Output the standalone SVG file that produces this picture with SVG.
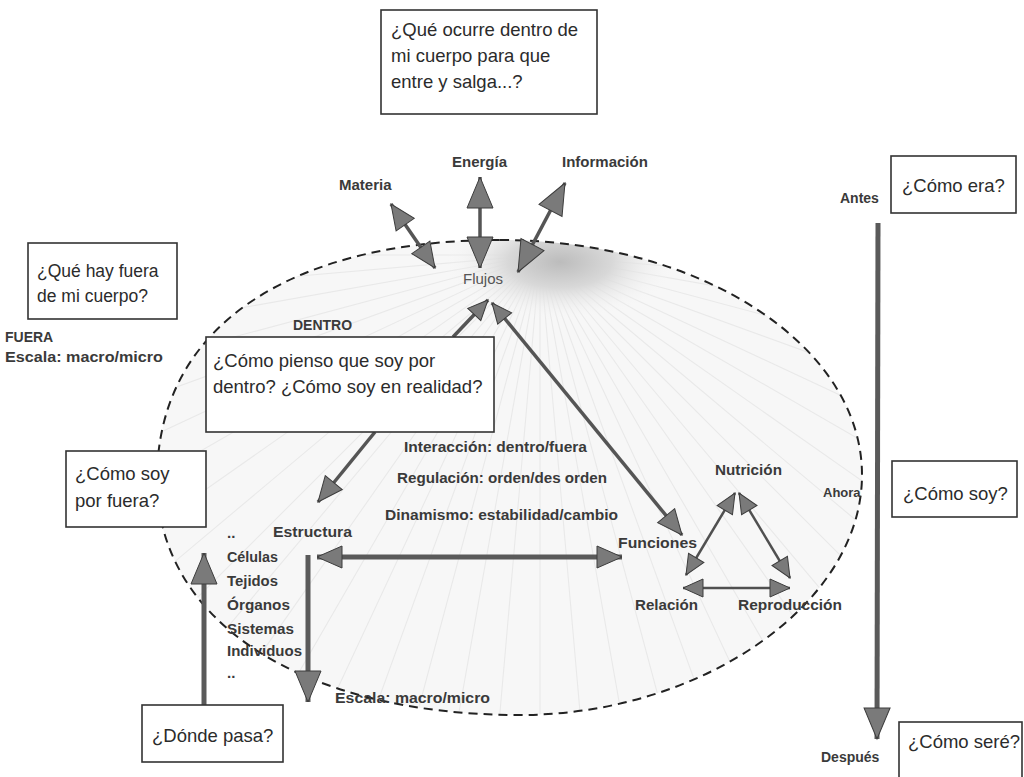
<svg xmlns="http://www.w3.org/2000/svg" width="1024" height="777" viewBox="0 0 1024 777">
  <style>
    .box { fill: #ffffff; stroke: #333333; stroke-width: 1.6; }
    .q { font-family: "Liberation Sans", Arial, sans-serif; font-size: 18.5px; fill: #2b2b2b; }
    .lbl { font-family: "Liberation Sans", Arial, sans-serif; font-size: 15px; font-weight: bold; fill: #3a3a3a; }
    .sm { font-family: "Liberation Sans", Arial, sans-serif; font-size: 14px; font-weight: bold; fill: #3a3a3a; }
    .flow { font-family: "Liberation Sans", Arial, sans-serif; font-size: 15px; fill: #555555; }
    .shaft { stroke: #555555; stroke-width: 3.5; fill: none; }
    .thick { stroke: #5a5a5a; stroke-width: 5; fill: none; }
    .thin { stroke: #505050; stroke-width: 2.5; fill: none; }
    .bound { fill: none; stroke: #222222; stroke-width: 2; stroke-dasharray: 9 6; }
  </style>
  <defs>
    <marker id="big" markerUnits="userSpaceOnUse" markerWidth="34" markerHeight="30" refX="32" refY="14" orient="auto-start-reverse">
      <path d="M1,1 L32,14 L1,27 z" fill="#7a7a7a" stroke="#3c3c3c" stroke-width="1"/>
    </marker>
    <marker id="med" markerUnits="userSpaceOnUse" markerWidth="28" markerHeight="26" refX="26" refY="12" orient="auto-start-reverse">
      <path d="M1,1 L26,12 L1,23 z" fill="#7a7a7a" stroke="#3c3c3c" stroke-width="1"/>
    </marker>
    <marker id="small" markerUnits="userSpaceOnUse" markerWidth="24" markerHeight="22" refX="21" refY="10" orient="auto-start-reverse">
      <path d="M1,1 L21,10 L1,19 z" fill="#7a7a7a" stroke="#3c3c3c" stroke-width="1"/>
    </marker>
    <path id="bodyShape" d="M500,240 C700,240 862,345 862,475 C862,605 700,715 520,715 C300,715 157,620 157,480 C157,320 300,240 500,240 Z"/>
    <clipPath id="bodyClip"><use href="#bodyShape"/></clipPath>
    <radialGradient id="flowShade" cx="560" cy="262" r="115" gradientUnits="userSpaceOnUse" gradientTransform="translate(560 262) scale(1 0.5) translate(-560 -262)">
      <stop offset="0" stop-color="#bcbcbc"/>
      <stop offset="0.45" stop-color="#d8d8d8"/>
      <stop offset="1" stop-color="#f6f6f6" stop-opacity="0"/>
    </radialGradient>
  </defs>

  <rect width="1024" height="777" fill="#ffffff"/>

  <!-- body interior: light fill, faint rays and shading under the flows -->
  <g id="body">
    <use href="#bodyShape" fill="#f7f7f7"/>
    <g clip-path="url(#bodyClip)">
      <path d="M540,255 L1240,255 M540,255 L1237,316 M540,255 L1229,377 M540,255 L1216,436 M540,255 L1198,494 M540,255 L1174,551 M540,255 L1146,605 M540,255 L1113,657 M540,255 L1076,705 M540,255 L1035,750 M540,255 L990,791 M540,255 L942,828 M540,255 L890,861 M540,255 L836,889 M540,255 L779,913 M540,255 L721,931 M540,255 L662,944 M540,255 L601,952 M540,255 L540,955 M540,255 L479,952 M540,255 L418,944 M540,255 L359,931 M540,255 L301,913 M540,255 L244,889 M540,255 L190,861 M540,255 L139,828 M540,255 L90,791 M540,255 L45,750 M540,255 L4,705 M540,255 L-33,657 M540,255 L-66,605 M540,255 L-94,551 M540,255 L-118,494 M540,255 L-136,436 M540,255 L-149,377 M540,255 L-157,316 M540,255 L-160,255" stroke="#e9e9e9" stroke-width="1.1" fill="none"/>
      <rect x="400" y="200" width="320" height="140" fill="url(#flowShade)"/>
    </g>
    <use href="#bodyShape" class="bound"/>
  </g>

  <!-- connectors -->
  <g id="connectors">
    <!-- materia / energía / información flows across the boundary -->
    <line class="shaft" x1="391" y1="204" x2="435" y2="268" marker-start="url(#med)" marker-end="url(#med)"/>
    <line class="shaft" x1="480" y1="177" x2="480" y2="268" marker-start="url(#big)" marker-end="url(#big)"/>
    <line class="shaft" x1="565" y1="183" x2="518" y2="272" marker-start="url(#big)" marker-end="url(#big)"/>
    <!-- towards Flujos -->
    <line class="shaft" x1="453" y1="337" x2="488" y2="300" marker-end="url(#small)"/>
    <line class="shaft" x1="492" y1="303" x2="682" y2="535" marker-start="url(#small)" marker-end="url(#med)"/>
    <!-- box to Estructura -->
    <line class="shaft" x1="375" y1="432" x2="318" y2="502" marker-end="url(#med)"/>
    <!-- Estructura <-> Funciones -->
    <line class="thick" x1="317" y1="557" x2="622" y2="557" marker-start="url(#med)" marker-end="url(#med)"/>
    <!-- scale arrows -->
    <line class="thick" x1="308" y1="555" x2="308" y2="702" marker-end="url(#big)"/>
    <line class="thick" x1="204" y1="705" x2="204" y2="553" marker-end="url(#big)"/>
    <!-- functions triangle -->
    <line class="thin" x1="735" y1="493" x2="686" y2="575" marker-start="url(#small)" marker-end="url(#small)"/>
    <line class="thin" x1="739" y1="493" x2="790" y2="578" marker-start="url(#small)" marker-end="url(#small)"/>
    <line class="thin" x1="683" y1="588" x2="790" y2="588" marker-start="url(#small)" marker-end="url(#small)"/>
    <!-- time line -->
    <line class="thick" x1="878" y1="223" x2="877" y2="739" marker-end="url(#big)"/>
  </g>

  <!-- question boxes -->
  <g id="q-entre-salga">
    <rect class="box" x="381" y="10" width="216" height="104"/>
    <text class="q" x="391" y="36">¿Qué ocurre dentro de</text>
    <text class="q" x="391" y="62">mi cuerpo para que</text>
    <text class="q" x="391" y="88">entre y salga...?</text>
  </g>
  <g id="q-fuera">
    <rect class="box" x="28" y="243" width="149" height="76"/>
    <text class="q" x="37" y="277" style="font-size:17.5px">¿Qué hay fuera</text>
    <text class="q" x="37" y="302" style="font-size:17.5px">de mi cuerpo?</text>
  </g>
  <g id="q-dentro">
    <rect class="box" x="206" y="337" width="288" height="95"/>
    <text class="q" x="213" y="367">¿Cómo pienso que soy por</text>
    <text class="q" x="213" y="393">dentro? ¿Cómo soy en realidad?</text>
  </g>
  <g id="q-por-fuera">
    <rect class="box" x="66" y="451" width="140" height="76"/>
    <text class="q" x="75" y="480">¿Cómo soy</text>
    <text class="q" x="75" y="507">por fuera?</text>
  </g>
  <g id="q-donde">
    <rect class="box" x="142" y="705" width="141" height="57"/>
    <text class="q" x="152" y="742">¿Dónde pasa?</text>
  </g>
  <g id="q-era">
    <rect class="box" x="891" y="156" width="125" height="57"/>
    <text class="q" x="902" y="192">¿Cómo era?</text>
  </g>
  <g id="q-soy">
    <rect class="box" x="892" y="461" width="125" height="56"/>
    <text class="q" x="903" y="500">¿Cómo soy?</text>
  </g>
  <g id="q-sere">
    <rect class="box" x="899" y="722" width="123" height="62"/>
    <text class="q" x="908" y="748">¿Cómo seré?</text>
  </g>

  <!-- labels -->
  <g id="flows">
    <text class="lbl" x="339" y="190">Materia</text>
    <text class="lbl" x="452" y="167">Energía</text>
    <text class="lbl" x="562" y="167">Información</text>
    <text class="flow" x="463" y="284">Flujos</text>
  </g>
  <g id="outside">
    <text class="sm" x="5" y="342">FUERA</text>
    <text class="sm" x="5" y="362" textLength="158" lengthAdjust="spacingAndGlyphs">Escala: macro/micro</text>
  </g>
  <g id="inside">
    <text class="sm" x="293" y="330">DENTRO</text>
    <text class="lbl" x="404" y="452" textLength="183" lengthAdjust="spacingAndGlyphs">Interacción: dentro/fuera</text>
    <text class="lbl" x="397" y="483" textLength="210" lengthAdjust="spacingAndGlyphs">Regulación: orden/des orden</text>
    <text class="lbl" x="385" y="520" textLength="233" lengthAdjust="spacingAndGlyphs">Dinamismo: estabilidad/cambio</text>
  </g>
  <g id="estructura">
    <text class="lbl" x="273" y="537" textLength="79" lengthAdjust="spacingAndGlyphs">Estructura</text>
    <text class="lbl" x="227" y="538">..</text>
    <text class="lbl" x="227" y="562" textLength="51" lengthAdjust="spacingAndGlyphs">Células</text>
    <text class="lbl" x="227" y="586" textLength="51" lengthAdjust="spacingAndGlyphs">Tejidos</text>
    <text class="lbl" x="227" y="610" textLength="63" lengthAdjust="spacingAndGlyphs">Órganos</text>
    <text class="lbl" x="227" y="634" textLength="67" lengthAdjust="spacingAndGlyphs">Sistemas</text>
    <text class="lbl" x="227" y="656" textLength="75" lengthAdjust="spacingAndGlyphs">Individuos</text>
    <text class="lbl" x="227" y="678">..</text>
    <text class="lbl" x="335" y="703" textLength="155" lengthAdjust="spacingAndGlyphs">Escala: macro/micro</text>
  </g>
  <g id="funciones">
    <text class="lbl" x="618" y="548" textLength="79" lengthAdjust="spacingAndGlyphs">Funciones</text>
    <text class="lbl" x="715" y="475" textLength="67" lengthAdjust="spacingAndGlyphs">Nutrición</text>
    <text class="lbl" x="635" y="610" textLength="63" lengthAdjust="spacingAndGlyphs">Relación</text>
    <text class="lbl" x="738" y="610" textLength="104" lengthAdjust="spacingAndGlyphs">Reproducción</text>
  </g>
  <g id="time">
    <text class="sm" x="840" y="203">Antes</text>
    <text class="sm" x="823" y="497" style="font-size:13px">Ahora</text>
    <text class="sm" x="821" y="762">Después</text>
  </g>
</svg>
